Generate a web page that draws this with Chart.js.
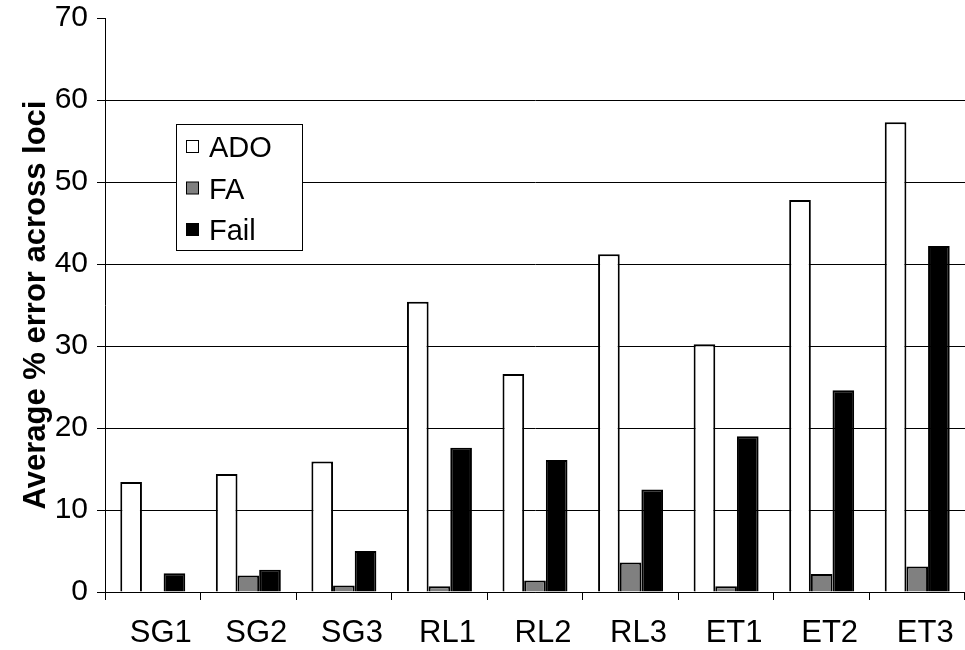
<!DOCTYPE html>
<html>
<head>
<meta charset="utf-8">
<title>Average % error across loci</title>
<script src="https://cdn.jsdelivr.net/npm/chart.js@4/dist/chart.umd.min.js"></script>
<style>
  html, body { margin: 0; padding: 0; background: #fff; }
  #wrap { width: 965px; height: 650px; position: relative; }
</style>
</head>
<body>
<div id="wrap"><canvas id="c" width="965" height="650"></canvas></div>
<script>
// Sample groups and per-group error rates (%)
const categories = ['SG1', 'SG2', 'SG3', 'RL1', 'RL2', 'RL3', 'ET1', 'ET2', 'ET3'];
const adoValues  = [13.4, 14.4, 15.9, 35.4, 26.6, 41.2, 30.2, 47.8, 57.3];
const faValues   = [0, 2.0, 0.8, 0.7, 1.4, 3.6, 0.7, 2.2, 3.1];
const failValues = [2.3, 2.7, 5.0, 17.6, 16.1, 12.5, 19.0, 24.6, 42.2];
const yTicks = [0, 10, 20, 30, 40, 50, 60, 70];

const FONT = '"Liberation Sans", Arial, Helvetica, sans-serif';

// Boxed legend drawn inside the plot area, covering the grid lines behind it
const boxLegend = {
  id: 'boxLegend',
  afterDatasetsDraw(chart) {
    const ctx = chart.ctx;
    const x = 176.5, y = 124.5, w = 126, h = 126;
    ctx.save();
    ctx.fillStyle = '#fff';
    ctx.fillRect(x, y, w, h);
    ctx.strokeStyle = '#000';
    ctx.lineWidth = 1;
    ctx.strokeRect(x, y, w, h);
    ctx.font = '29px ' + FONT;
    ctx.textBaseline = 'alphabetic';
    ctx.textAlign = 'left';
    chart.data.datasets.forEach((ds, i) => {
      const rowBase = 157 + i * 41.5;
      ctx.fillStyle = ds.backgroundColor;
      ctx.fillRect(186.5, rowBase - 16.5, 12, 12);
      ctx.strokeStyle = '#000';
      ctx.lineWidth = 1;
      ctx.strokeRect(186.5, rowBase - 16.5, 12, 12);
      ctx.fillStyle = '#000';
      ctx.fillText(ds.label, 209, rowBase);
    });
    ctx.restore();
  }
};

const mkSet = (label, data, fill) => ({
  label, data,
  backgroundColor: fill,
  borderColor: '#000',
  borderWidth: 2,
  categoryPercentage: 0.68,
  barPercentage: 1.0
});

new Chart(document.getElementById('c'), {
  type: 'bar',
  data: {
    labels: categories,
    datasets: [
      mkSet('ADO', adoValues, '#ffffff'),
      mkSet('FA', faValues, '#808080'),
      mkSet('Fail', failValues, '#000000')
    ]
  },
  options: {
    responsive: false,
    animation: false,
    devicePixelRatio: 1,
    layout: { padding: { top: 18, right: 0, left: 0, bottom: 0 } },
    plugins: {
      legend: { display: false },
      tooltip: { enabled: false }
    },
    scales: {
      x: {
        grid: {
          offset: true,
          drawOnChartArea: false,
          drawTicks: true,
          tickLength: 8,
          tickColor: '#000',
          tickWidth: 1
        },
        border: { display: true, color: '#000', width: 1 },
        ticks: {
          color: '#000',
          font: { family: FONT, size: 31 },
          padding: 15,
          labelOffset: 8,
          maxRotation: 0,
          autoSkip: false
        },
        afterFit(scale) {
          scale.height = 58;
          scale.paddingLeft = 0;
          scale.paddingRight = 0;
        }
      },
      y: {
        min: 0,
        max: 70,
        afterBuildTicks(scale) { scale.ticks = yTicks.map(v => ({ value: v })); },
        grid: {
          color: ctx => (ctx.tick && ctx.tick.value === 70) ? 'rgba(0,0,0,0)' : '#000',
          tickColor: '#000',
          lineWidth: 1,
          drawTicks: true,
          tickLength: 8
        },
        border: { display: true, color: '#000', width: 1 },
        ticks: {
          color: '#000',
          font: { family: FONT, size: 30 },
          padding: 9
        },
        title: {
          display: true,
          text: 'Average % error across loci',
          color: '#000',
          font: { family: FONT, size: 31, weight: 'bold', lineHeight: 1 },
          padding: { top: 21, bottom: 0 }
        },
        afterFit(scale) {
          scale.width = 105;
          scale.paddingTop = 0;
          scale.paddingBottom = 0;
        }
      }
    }
  },
  plugins: [boxLegend]
});
</script>
</body>
</html>
